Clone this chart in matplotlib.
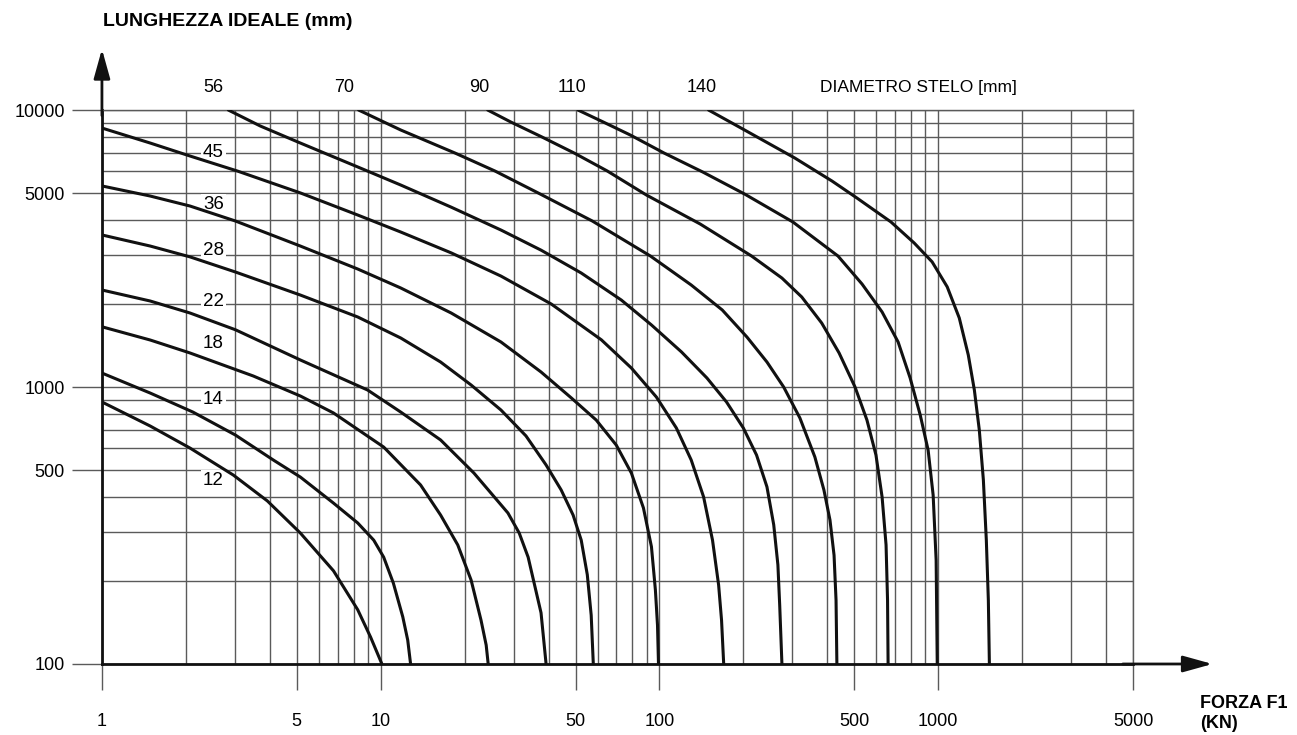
import numpy as np
import matplotlib.pyplot as plt
from matplotlib.ticker import NullFormatter

plt.rcParams['font.family'] = ['Liberation Sans', 'DejaVu Sans']

# curves: forza F1 [kN] -> lunghezza ideale [mm]
d12_f = [1, 1.49, 2.07, 2.96, 3.92, 5.15, 6.77, 8.27, 9.2, 10.1]
d12_l = [883, 723, 602, 481, 388, 297, 217, 157, 125, 100]
d14_f = [1, 1.49, 2.12, 3.01, 4.12, 5.15, 6.77, 8.27, 9.44, 10.25, 11.1, 12.0, 12.5, 12.8]
d14_l = [1123, 951, 812, 671, 545, 473, 381, 323, 280, 243, 196, 148, 122, 100]
d18_f = [1, 1.49, 2.07, 3.49, 5.15, 6.77, 10.25, 13.9, 16.4, 18.9, 21.1, 22.9, 23.9, 24.3]
d18_l = [1650, 1478, 1327, 1096, 928, 806, 607, 443, 345, 269, 201, 144, 117, 100]
d22_f = [1, 1.49, 2.07, 3.01, 5.15, 8.98, 11.8, 16.4, 21.6, 28.6, 31.4, 33.8, 37.6, 39.2]
d22_l = [2240, 2044, 1850, 1610, 1252, 975, 812, 644, 489, 351, 297, 243, 153, 100]
d28_f = [1, 1.49, 2.07, 3.01, 5.15, 8.27, 11.8, 16.4, 21.1, 27.0, 33.2, 39.2, 44.4,
         49.0, 52.4, 55.1, 56.9, 57.9]
d28_l = [3540, 3228, 2950, 2602, 2148, 1790, 1503, 1231, 1017, 826, 666, 523, 425,
         345, 280, 210, 150, 100]
d36_f = [1, 1.49, 2.07, 3.01, 5.15, 8.27, 11.8, 17.9, 27.0, 37.6, 48.3, 59.3, 70.0,
         79.3, 87.6, 93.6, 96.7, 98.4, 99.2]
d36_l = [5320, 4892, 4502, 3976, 3228, 2667, 2278, 1850, 1454, 1133, 913, 760, 617,
         489, 366, 265, 185, 138, 100]
d45_f = [1, 1.49, 2.07, 3.06, 5.15, 8.27, 11.8, 17.9, 27.0, 40.9, 61.9, 79.3, 97.5,
         115, 130, 144, 155, 163, 167, 170]
d45_l = [8610, 7600, 6823, 6023, 5020, 4178, 3627, 3050, 2515, 1994, 1480, 1171, 920,
         711, 545, 401, 280, 193, 144, 100]
d56_f = [2.84, 3.70, 5.15, 8.27, 11.8, 17.9, 27.0, 37.6, 52.4, 73.0, 93.6, 120, 148,
         174, 200, 223, 243, 257, 266, 270, 275]
d56_l = [10000, 8755, 7600, 6230, 5361, 4460, 3688, 3120, 2580, 2060, 1675, 1338, 1078,
         883, 711, 568, 436, 318, 228, 163, 100]
d70_f = [8.33, 11.8, 18.5, 25.7, 36.7, 57.4, 92.8, 130, 168, 206, 243, 279, 319, 361,
         389, 409, 423, 430, 433]
d70_l = [10000, 8470, 6990, 6023, 5020, 3976, 2971, 2335, 1897, 1515, 1231, 1000, 773,
         559, 425, 331, 247, 170, 100]
d90_f = [24.2, 29.3, 37.9, 49.5, 65.0, 89.8, 140, 214, 275, 324, 382, 441, 503, 555,
         598, 629, 650, 658, 661]
d90_l = [10000, 9050, 7990, 6990, 6023, 4933, 3877, 2971, 2474, 2113, 1702, 1327, 1000,
         760, 568, 401, 269, 170, 100]
d110_f = [51.0, 62.9, 78.6, 104, 143, 202, 301, 437, 533, 629, 718, 793, 862, 920,
          959, 983, 992]
d110_l = [10000, 9050, 8124, 6990, 5973, 4975, 3943, 2971, 2354, 1866, 1454, 1078, 792,
          592, 407, 237, 100]
d140_f = [150, 202, 306, 416, 511, 677, 820, 951, 1077, 1190, 1282, 1348, 1404, 1452,
          1488, 1513, 1526]
d140_l = [10000, 8470, 6709, 5541, 4812, 3943, 3311, 2830, 2300, 1775, 1305, 975, 700,
          462, 280, 170, 100]

curves = [(d12_f, d12_l), (d14_f, d14_l), (d18_f, d18_l), (d22_f, d22_l),
          (d28_f, d28_l), (d36_f, d36_l), (d45_f, d45_l), (d56_f, d56_l),
          (d70_f, d70_l), (d90_f, d90_l), (d110_f, d110_l), (d140_f, d140_l)]

# diameter labels on the left (value, y position) and on top (value, x position)
left_labels = ['45', '36', '28', '22', '18', '14', '12']
left_label_y = [7000, 4550, 3100, 2030, 1440, 900, 458]
top_labels = ['56', '70', '90', '110', '140']
top_label_x = [2.51, 7.42, 22.5, 48.7, 142]

xticks = [1, 5, 10, 50, 100, 500, 1000, 5000]
yticks = [100, 500, 1000, 5000, 10000]
xminor = [k * 10**n for n in range(0, 4) for k in range(1, 10) if k * 10**n <= 5000]
yminor = [k * 10**n for n in range(2, 4) for k in range(1, 10)] + [10000]

grid_c = '#5a5a5a'

fig = plt.figure(figsize=(12.97, 7.35), dpi=100)
ax = fig.add_axes([0.0786, 0.0966, 0.795, 0.7537])
ax.set_xscale('log')
ax.set_yscale('log')
ax.set_xlim(1, 5000)
ax.set_ylim(100, 10000)

for v in xminor:
    ax.axvline(v, color=grid_c, lw=1.0, zorder=0.5)
for v in yminor:
    ax.axhline(v, color=grid_c, lw=1.0, zorder=0.5)

for f, l in curves:
    ax.plot(f, l, color='#111111', lw=2.2, solid_capstyle='round',
            solid_joinstyle='round', zorder=3)

for t, y in zip(left_labels, left_label_y):
    ax.text(2.51, y, t, fontsize=13.5, ha='center', va='center', zorder=2,
            bbox=dict(facecolor='white', edgecolor='none', pad=1.5))
for t, x in zip(top_labels, top_label_x):
    ax.text(x, 1.04, t, transform=ax.get_xaxis_transform(), fontsize=13,
            ha='center', va='center')
ax.text(376, 1.04, 'DIAMETRO STELO [mm]', transform=ax.get_xaxis_transform(),
        fontsize=12.5, ha='left', va='center')

ax.set_xticks(xticks)
ax.set_xticklabels([str(v) for v in xticks])
ax.set_xticks([], minor=True)
ax.set_yticks(yticks)
ax.set_yticklabels([str(v) for v in yticks])
ax.set_yticks([], minor=True)
ax.xaxis.set_minor_formatter(NullFormatter())
ax.yaxis.set_minor_formatter(NullFormatter())
ax.tick_params(axis='x', length=19, width=1.0, color=grid_c, pad=16, labelsize=13)
ax.tick_params(axis='y', length=21.6, width=1.0, color=grid_c, pad=5, labelsize=13)

for s in ['top', 'right']:
    ax.spines[s].set_color(grid_c)
    ax.spines[s].set_linewidth(1.0)
for s in ['left', 'bottom']:
    ax.spines[s].set_color('#111111')
    ax.spines[s].set_linewidth(2.0)

arrow = dict(arrowstyle='-|>,head_length=0.9,head_width=0.25', color='#111111',
             lw=2.0, mutation_scale=20, shrinkA=0, shrinkB=0)
ax.annotate('', xy=(0, 1.11), xytext=(0, 0.99), xycoords='axes fraction',
            arrowprops=arrow, annotation_clip=False)
ax.annotate('', xy=(1.077, 0), xytext=(0.99, 0), xycoords='axes fraction',
            arrowprops=arrow, annotation_clip=False)

fig.text(103 / 1297, 1 - 22 / 735, 'LUNGHEZZA IDEALE (mm)', fontsize=14,
         fontweight='bold', ha='left', va='center')
fig.text(1200 / 1297, 1 - 703 / 735, 'FORZA F1', fontsize=13,
         fontweight='bold', ha='left', va='center')
fig.text(1200 / 1297, 1 - 724 / 735, '(KN)', fontsize=13,
         fontweight='bold', ha='left', va='center')

fig.savefig('out.png', dpi=100, facecolor='white')
